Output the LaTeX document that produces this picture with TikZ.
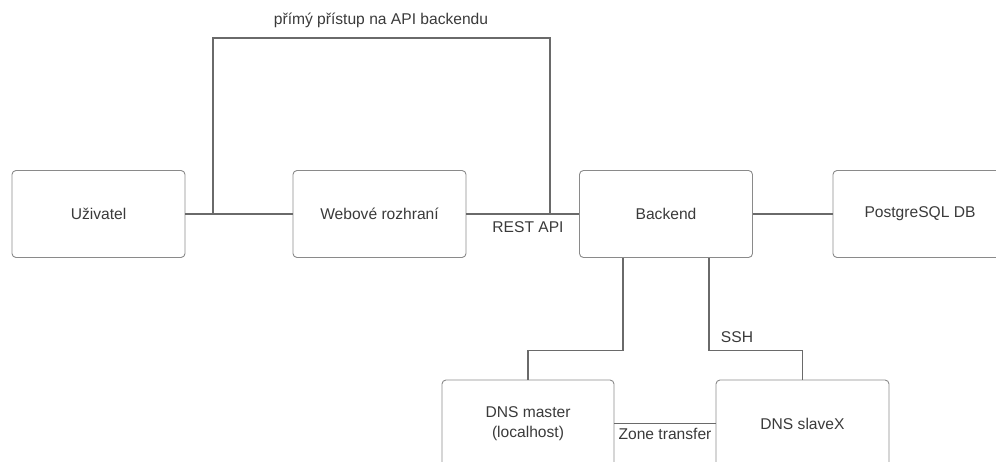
\documentclass[tikz,border=0pt]{standalone}
\usepackage{fontspec}
\setmainfont{Liberation Sans}
\definecolor{boxline}{HTML}{8A8A8A}
\definecolor{conn}{HTML}{6A6A6A}
\definecolor{txt}{HTML}{3A3A3A}
\begin{document}
\begin{tikzpicture}[x=1pt,y=1pt,
  box/.style={draw=boxline, line width=0.9pt, rounded corners=4pt, minimum width=173pt, minimum height=87pt, align=center, text=txt, font=\fontsize{15.6}{20}\selectfont, inner sep=0pt},
  wire/.style={draw=conn, line width=1.2pt},
  lbl/.style={text=txt, font=\fontsize{15.6}{20}\selectfont, inner sep=0pt}]
\useasboundingbox (0,0) rectangle (996,461);
\clip (0,0) rectangle (996,461);
\node[box] (u) at (98.5,247) {Uživatel};
\node[box] (w) at (379.5,247) {Webové rozhraní};
\node[box] (b) at (666,247) {Backend};
\node[box, minimum width=174pt] (p) at (920,247) {PostgreSQL DB};
\node[box, minimum width=172pt] (m) at (528,37.5) {DNS master\\(localhost)};
\node[box] (s) at (802.5,37.5) {DNS slaveX};
\coordinate (j1) at (213,247);
\coordinate (j2) at (550,247);
\coordinate (t1) at (213,423);
\coordinate (t2) at (550,423);
\draw[wire] (u.east) -- (w.west);
\draw[wire] (w.east) -- (b.west);
\draw[wire] (b.east) -- (p.west);
\draw[wire] (j1) -- (t1) -- (t2) -- (j2);
\draw[wire] ([xshift=-43pt]b.south) |- ([yshift=29pt]m.north) -- (m.north);
\draw[wire] ([xshift=43pt]b.south) |- ([yshift=29pt]s.north) -- (s.north);
\draw[wire] (m.east) -- (s.west);
\node[lbl] (ltop) at (381,441) {přímý přístup na API backendu};
\node[lbl] (lrest) at (528,234) {REST API};
\node[lbl] (lssh) at (737,124) {SSH};
\node[lbl] (lzone) at (665,27) {Zone transfer};
\end{tikzpicture}
\end{document}
